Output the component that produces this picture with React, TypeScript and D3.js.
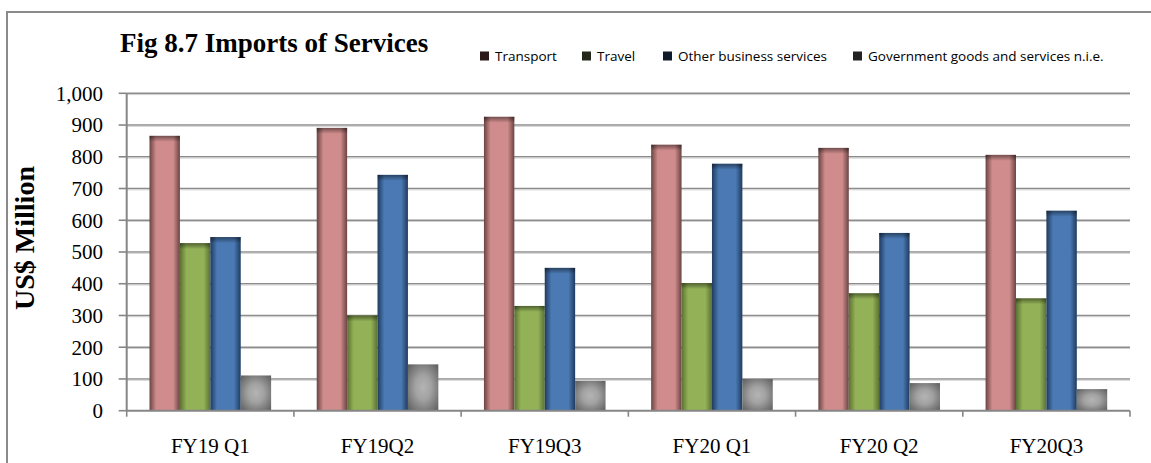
import React from "react";
import * as d3 from "d3";

const categories = ["FY19 Q1", "FY19Q2", "FY19Q3", "FY20 Q1", "FY20 Q2", "FY20Q3"];
const seriesNames = ["Transport", "Travel", "Other business services", "Government goods and services n.i.e."];
const transport = [866, 891, 926, 838, 828, 806];
const travel = [528, 300, 330, 402, 370, 354];
const otherBusiness = [547, 743, 450, 778, 560, 630];
const government = [111, 146, 94, 100, 87, 68];
const yTicks = [0, 100, 200, 300, 400, 500, 600, 700, 800, 900, 1000];

const seriesValues = [transport, travel, otherBusiness, government];
const mids = ["#d08c8c", "#93b257", "#4a79b3", "#b4b4b4"];
const edges = ["#6a4343", "#5b7132", "#1f3b60", "#555555"];
const legendColors = ["#2a1a1a", "#23281a", "#0f1a2a", "#222222"];

const W = 1151;
const H = 463;
const plotL = 126.7;
const plotR = 1130;
const plotT = 93.3;
const plotB = 410.7;

export default function App() {
  const x0 = d3.scaleBand<string>().domain(categories).range([plotL, plotR]).paddingInner(0).paddingOuter(0);
  const x1 = d3.scaleBand<string>().domain(seriesNames).range([0, x0.step()]).paddingInner(0).paddingOuter(0.75);
  const y = d3.scaleLinear().domain([0, 1000]).range([plotB, plotT]);
  const fmt = d3.format(",");
  const bw = x1.bandwidth();

  const legendX = [480, 582, 663, 853];

  return (
    <svg width={W} height={H} style={{ position: "absolute", left: 0, top: 0 }}>
      <defs>
        {mids.map((m, i) =>
          i < 3 ? (
            <linearGradient key={i} id={`g${i}`} x1="0" x2="1" y1="0" y2="0">
              <stop offset="0" stopColor={edges[i]} />
              <stop offset="0.22" stopColor={m} />
              <stop offset="0.78" stopColor={m} />
              <stop offset="1" stopColor={edges[i]} />
            </linearGradient>
          ) : (
            <radialGradient key={i} id={`g${i}`} cx="0.5" cy="0.5" r="0.75">
              <stop offset="0" stopColor={m} />
              <stop offset="0.35" stopColor="#a2a2a2" />
              <stop offset="1" stopColor={edges[i]} />
            </radialGradient>
          )
        )}
        <linearGradient id="topShade" x1="0" x2="0" y1="0" y2="1">
          <stop offset="0" stopColor="#000" stopOpacity="0.45" />
          <stop offset="1" stopColor="#000" stopOpacity="0" />
        </linearGradient>
      </defs>
      <rect x={0} y={0} width={W} height={H} fill="#fff" />
      {/* outer frame */}
      <rect x={7} y={12} width={W + 20} height={H + 20} fill="none" stroke="#8a8a8a" strokeWidth={2} />

      {/* title */}
      <text x={120} y={52} fontFamily="'Liberation Serif', serif" fontWeight="bold" fontSize={27} fill="#000">
        Fig 8.7 Imports of Services
      </text>

      {/* legend */}
      {seriesNames.map((s, i) => (
        <g key={s} transform={`translate(${legendX[i]},56)`}>
          <rect x={0} y={-4.5} width={9} height={9} fill={legendColors[i]} />
          <text x={15} y={5} fontFamily="'Open Sans', sans-serif" fontSize={13.5} fill="#000">
            {s}
          </text>
        </g>
      ))}

      {/* gridlines */}
      {yTicks.filter((t) => t > 0).map((t) => (
        <g key={t}>
          <line x1={plotL} x2={plotR} y1={y(t)} y2={y(t)} stroke="#8c8c8c" strokeWidth={1.6} />
          <line x1={plotL} x2={plotR} y1={y(t) + 1.3} y2={y(t) + 1.3} stroke="#d0d0d0" strokeWidth={1} />
        </g>
      ))}

      {/* bars */}
      {categories.map((c, ci) => (
        <g key={c} transform={`translate(${x0(c)},0)`}>
          {seriesNames.map((s, si) => {
            const v = seriesValues[si][ci];
            const bx = x1(s) as number;
            const by = y(v);
            const bh = plotB - by;
            return (
              <g key={s}>
                <rect x={bx} y={by} width={bw} height={bh} fill={`url(#g${si})`} />
                {si < 3 && <rect x={bx} y={by} width={bw} height={Math.min(6, bh)} fill="url(#topShade)" />}
              </g>
            );
          })}
        </g>
      ))}

      {/* y axis */}
      <line x1={plotL} x2={plotL} y1={plotT} y2={plotB} stroke="#868686" strokeWidth={2} />
      {yTicks.map((t) => (
        <g key={t}>
          <line x1={plotL - 8} x2={plotL} y1={y(t)} y2={y(t)} stroke="#868686" strokeWidth={1.6} />
          <text x={103} y={y(t)} dy="0.35em" textAnchor="end" fontFamily="'Liberation Serif', serif" fontSize={21} fill="#000">
            {fmt(t)}
          </text>
        </g>
      ))}

      {/* x axis */}
      <line x1={plotL} x2={plotR} y1={plotB} y2={plotB} stroke="#868686" strokeWidth={2} />
      {[...categories.map((c) => x0(c) as number), plotR].map((px, i) => (
        <line key={i} x1={px} x2={px} y1={plotB} y2={plotB + 6} stroke="#868686" strokeWidth={1.6} />
      ))}
      {categories.map((c) => (
        <text key={c} x={(x0(c) as number) + x0.bandwidth() / 2} y={453} textAnchor="middle" fontFamily="'Liberation Serif', serif" fontSize={21} fill="#000">
          {c}
        </text>
      ))}

      {/* y axis title */}
      <text transform={`translate(34,238) rotate(-90)`} textAnchor="middle" fontFamily="'Liberation Serif', serif" fontWeight="bold" fontSize={28} fill="#000">
        US$ Million
      </text>
    </svg>
  );
}
